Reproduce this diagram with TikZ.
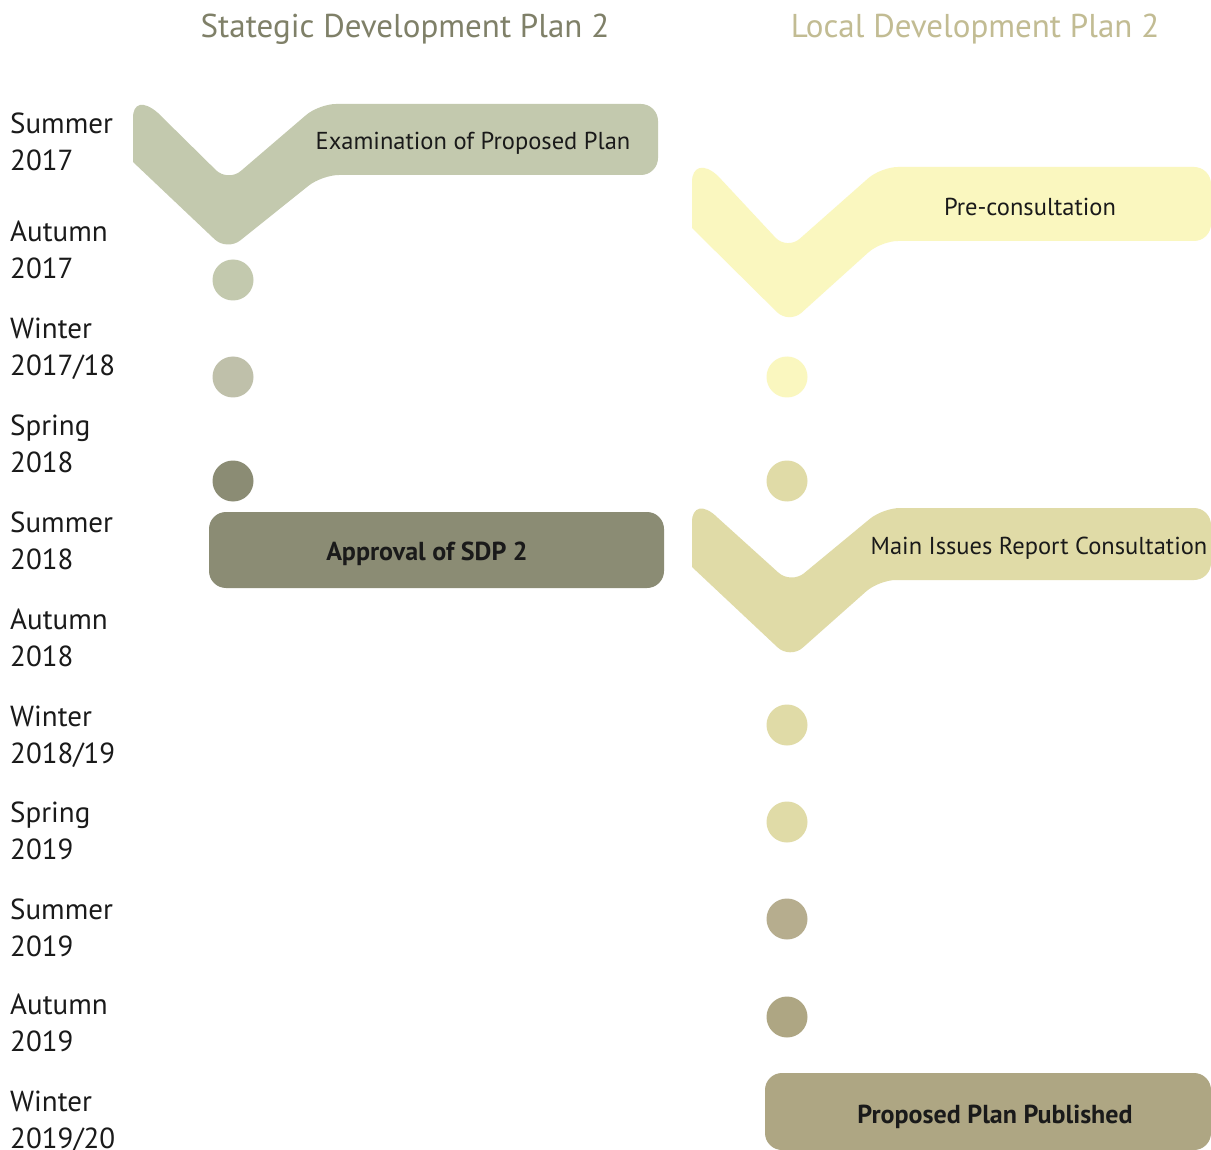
\documentclass[tikz,border=0pt]{standalone}
\usepackage{fontspec}
\setmainfont{PT Sans}
\definecolor{sdpA}{HTML}{C3C9AE}
\definecolor{sdpB}{HTML}{BFC0AA}
\definecolor{sdpC}{HTML}{8B8C74}
\definecolor{ldpA}{HTML}{FAF7BF}
\definecolor{ldpB}{HTML}{E0DBA7}
\definecolor{ldpC}{HTML}{B6AD8E}
\definecolor{ldpD}{HTML}{AEA683}
\definecolor{titleA}{HTML}{7F8068}
\definecolor{titleB}{HTML}{C2BC93}
\definecolor{ink}{HTML}{1A1A1A}
\begin{document}
\begin{tikzpicture}[x=1pt,y=-1pt,
  chev/.style={rounded corners=17pt},
  dot/.style={circle,minimum size=41pt,inner sep=0pt},
  bar/.style={rounded corners=17pt},
  season/.style={anchor=north west,align=left,font=\fontsize{29}{37}\selectfont,text=ink,inner sep=0pt},
  band/.style={anchor=base,font=\fontsize{24.5}{28}\selectfont,text=ink,inner sep=0pt},
  boldband/.style={anchor=base,font=\bfseries\fontsize{26}{30}\selectfont,text=ink,inner sep=0pt},
  ttl/.style={anchor=base,font=\fontsize{33}{40}\selectfont,inner sep=0pt}]
\useasboundingbox (0,0) rectangle (1211,1150);
\fill[white] (0,0) rectangle (1211,1150);

% titles
\node[ttl,text=titleA] (t1) at (405,38) {Stategic Development Plan 2};
\node[ttl,text=titleB] (t2) at (975,38) {Local Development Plan 2};

% season labels
\node[season] (l1) at (10,113) {Summer\\2017};
\node[season] (l2) at (10,221) {Autumn\\2017};
\node[season] (l3) at (10,318) {Winter\\2017/18};
\node[season] (l4) at (10,415) {Spring\\2018};
\node[season] (l5) at (10,512) {Summer\\2018};
\node[season] (l6) at (10,609) {Autumn\\2018};
\node[season] (l7) at (10,706) {Winter\\2018/19};
\node[season] (l8) at (10,802) {Spring\\2019};
\node[season] (l9) at (10,899) {Summer\\2019};
\node[season] (l10) at (10,994) {Autumn\\2019};
\node[season] (l11) at (10,1091) {Winter\\2019/20};

% SDP chevron banner
\fill[sdpA] (133,162) -- (133,118) .. controls (133,103) and (143,100) .. (158,113)
  [chev] -- (228,182) -- (319,104) -- (658,104)
  -- (658,175) -- (322,175) -- (227,251) -- (133,162);
\node[band] (exam) at (473,150) {Examination of Proposed Plan};

% SDP dots
\node[dot,fill=sdpA] (s1) at (233,280) {};
\node[dot,fill=sdpB] (s2) at (233,377) {};
\node[dot,fill=sdpC] (s3) at (233,481) {};

% Approval box
\fill[sdpC,bar] (209,512) rectangle (664,588);
\node[boldband] (appr) at (427,560) {Approval of SDP 2};

% LDP pre-consultation
\fill[ldpA] (692,228) -- (692,182) .. controls (692,167) and (703,162) .. (718,176)
  [chev] -- (787,250) -- (881,167) -- (1211,167)
  -- (1211,241) -- (881,241) -- (789,324) -- (692,228);
\node[band] (pre) at (1030,216) {Pre-consultation};

% LDP dots
\node[dot,fill=ldpA] (d1) at (787,377) {};
\node[dot,fill=ldpB] (d2) at (787,481) {};

% Main issues
\fill[ldpB] (692,567) -- (692,522) .. controls (692,507) and (703,503) .. (718,518)
  [chev] -- (791,584) -- (883,508) -- (1211,508)
  -- (1211,580) -- (879,580) -- (790,659) -- (692,567);
\node[band] (mir) at (1039,554) {Main Issues Report Consultation};

\node[dot,fill=ldpB] (d3) at (787,725) {};
\node[dot,fill=ldpB] (d4) at (787,822) {};
\node[dot,fill=ldpC] (d5) at (787,919) {};
\node[dot,fill=ldpD] (d6) at (787,1017) {};

% Proposed plan published
\fill[ldpD,bar] (765,1073) rectangle (1211,1150);
\node[boldband] (ppp) at (995,1123) {Proposed Plan Published};
\end{tikzpicture}
\end{document}
